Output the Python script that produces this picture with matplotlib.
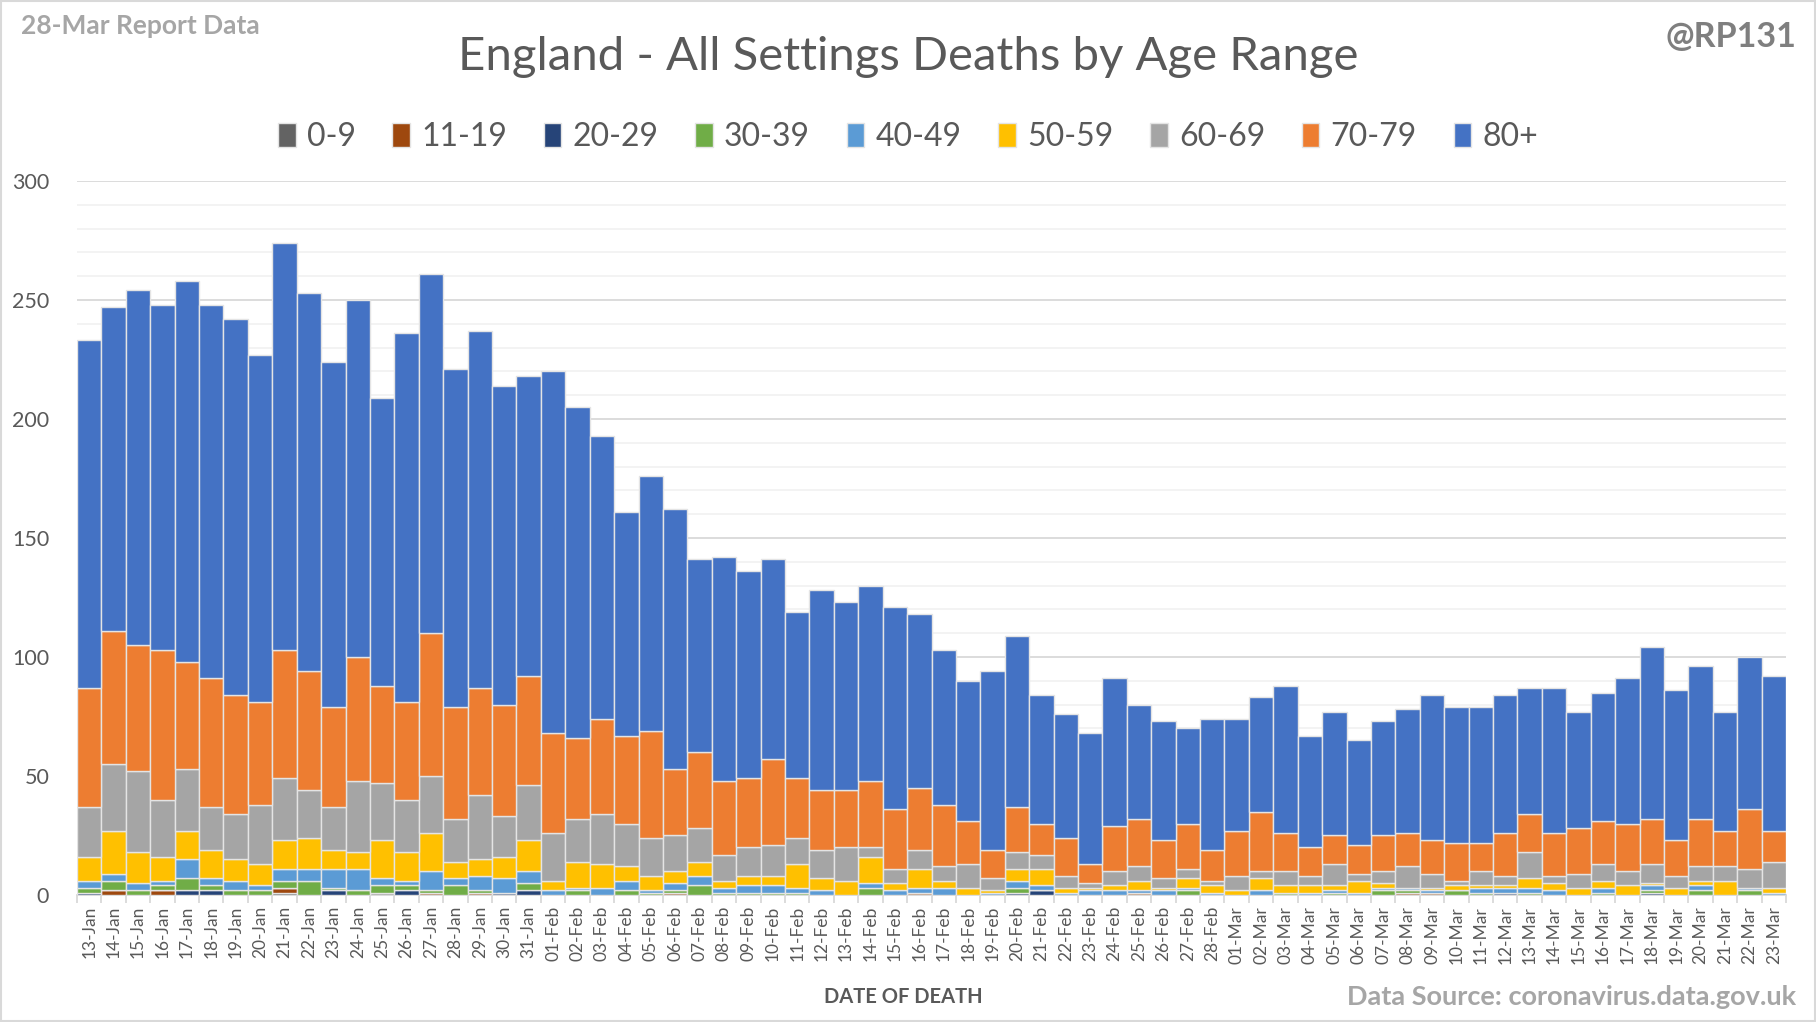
import matplotlib
matplotlib.use('Agg')
import matplotlib.pyplot as plt
from matplotlib.ticker import MultipleLocator
import numpy as np
import pandas as pd

# day labels 13-Jan .. 23-Mar
dates = pd.date_range('2021-01-13', '2021-03-23').strftime('%d-%b').tolist()

age_0_9 = [0,0,0,0,0,0,0,0,1,0, 0,0,1,0,0,0,0,0,0,0,
           0,0,0,0,0,0,0,0,0,0, 0,0,0,0,0,0,0,0,0,0,
           0,0,0,0,0,0,0,0,0,0, 0,0,0,0,0,0,0,0,0,0,
           0,0,0,0,0,0,0,0,0,0]
age_11_19 = [0,2,0,2,0,0,0,0,2,0, 0,0,0,0,1,0,1,0,0,0,
             0,0,0,0,1,0,0,0,0,0, 0,0,0,0,1,0,0,0,0,0,
             0,0,0,1,0,0,0,0,0,0, 0,0,0,0,1,1,0,0,0,0,
             0,0,0,0,0,0,0,0,0,0]
age_20_29 = [1,0,0,0,2,2,0,0,0,0, 2,0,0,2,0,0,0,1,2,0,
             0,0,0,0,0,0,0,0,0,0, 0,0,0,0,0,0,0,0,1,2,
             0,0,0,0,0,0,0,0,0,0, 0,0,0,0,0,0,0,0,1,0,
             0,0,0,0,1,0,0,0,0,0]
age_30_39 = [2,4,2,2,5,2,2,2,3,6, 1,2,3,2,1,4,1,0,3,0,
             2,0,2,1,1,4,1,1,1,1, 0,0,3,0,0,0,0,0,2,0,
             0,0,0,0,0,2,0,0,0,1, 0,1,0,2,1,0,2,1,0,1,
             0,0,1,0,1,0,2,0,2,0]
age_40_49 = [3,3,3,2,8,3,4,2,5,5, 8,9,3,2,8,3,6,6,5,2,
             1,3,4,1,3,4,2,3,3,2, 2,0,2,2,2,3,0,1,3,2,
             1,2,2,1,2,1,1,0,2,0, 1,1,1,1,1,1,0,2,2,2,
             2,0,2,0,2,0,2,0,1,1]
age_50_59 = [10,18,13,10,12,12,9,9,12,13, 8,7,16,12,16,7,7,9,13,4,
             11,10,6,6,5,6,3,4,4,10, 5,6,11,3,8,3,3,1,5,7,
             2,1,2,4,1,4,3,2,5,3, 3,2,5,2,0,1,2,1,1,4,
             3,3,3,4,1,3,2,6,0,2]
age_60_69 = [21,28,34,24,26,18,19,25,26,20, 18,30,24,22,24,18,27,17,23,20,
             18,21,18,16,15,14,11,12,13,11, 12,14,4,6,8,6,10,5,7,6,
             5,2,6,6,4,4,2,6,3,6, 4,9,3,5,9,6,2,6,4,11,
             3,6,7,6,8,5,6,6,8,11]
age_70_79 = [50,56,53,63,45,54,50,43,54,50, 42,52,41,41,60,47,45,47,46,42,
             34,40,37,45,28,32,31,29,36,25, 25,24,28,25,26,26,18,12,19,13,
             16,8,19,20,16,19,13,19,25,16, 12,12,12,15,14,14,16,12,18,16,
             18,19,18,20,19,15,20,15,25,13]
age_80_plus = [146,136,149,145,160,157,158,146,171,159, 145,150,121,155,151,142,150,134,126,152,
               139,119,94,107,109,81,94,87,84,70, 84,79,82,85,73,65,59,75,72,54,
               52,55,62,48,50,40,55,47,48,62, 47,52,44,48,52,61,57,57,58,53,
               61,49,54,61,72,63,64,50,64,65]

bands = ['0-9', '11-19', '20-29', '30-39', '40-49', '50-59', '60-69', '70-79', '80+']
series = [age_0_9, age_11_19, age_20_29, age_30_39, age_40_49,
          age_50_59, age_60_69, age_70_79, age_80_plus]
colors = ['#636363', '#9E480E', '#264478', '#70AD47', '#5B9BD5',
          '#FFC000', '#A5A5A5', '#ED7D31', '#4472C4']

plt.rcParams['font.family'] = ['Lato', 'DejaVu Sans']
txt = '#595959'

fig = plt.figure(figsize=(18.16, 10.22), dpi=100)
ax = fig.add_axes([0.0424, 0.1243, 0.9411, 0.6986])

x = np.arange(len(dates))
bottom = np.zeros(len(dates))
for name, vals, c in zip(bands, series, colors):
    ax.bar(x, vals, width=1.0, bottom=bottom, color=c, edgecolor='#e4e4e4',
           linewidth=1.0, label=name, zorder=3)
    bottom += np.array(vals)

ax.set_xlim(-0.5, len(dates) - 0.5)
ax.set_ylim(0, 300)
ax.yaxis.set_major_locator(MultipleLocator(50))
ax.yaxis.set_minor_locator(MultipleLocator(10))
ax.grid(axis='y', which='major', color='#d9d9d9', linewidth=1.3, zorder=0)
ax.grid(axis='y', which='minor', color='#f2f2f2', linewidth=1.3, zorder=0)
for s in ['top', 'right', 'left']:
    ax.spines[s].set_visible(False)
ax.spines['bottom'].set_color('#d9d9d9')
ax.spines['bottom'].set_linewidth(1.3)

ax.set_xticks(x)
ax.set_xticklabels(dates, rotation=90, fontsize=12.5, color=txt)
ax.set_xticks(np.arange(len(dates) + 1) - 0.5, minor=True)
ax.tick_params(axis='x', which='major', length=0, pad=8)
ax.tick_params(axis='x', which='minor', length=6, color='#d9d9d9', width=1.3)
ax.tick_params(axis='y', which='both', length=0, pad=20, labelsize=15.5, labelcolor=txt)

fig.legend(loc='center', bbox_to_anchor=(0.5, 1 - 137 / 1022), ncol=9, frameon=False,
           fontsize=23, handlelength=0.55, handleheight=0.8, handletextpad=0.35,
           columnspacing=1.15, labelcolor=txt)

fig.text(0.5, 1 - 57 / 1022, 'England - All Settings Deaths by Age Range',
         ha='center', va='center', fontsize=34, color=txt)
fig.text(21 / 1816, 1 - 26 / 1022, '28-Mar Report Data', ha='left', va='center',
         fontsize=19, fontweight='bold', color='#a6a6a6')
fig.text(1 - 20 / 1816, 1 - 37 / 1022, '@RP131', ha='right', va='center',
         fontsize=24.5, fontweight='bold', color='#7f7f7f')
fig.text(903 / 1816, 1 - 997 / 1022, 'DATE OF DEATH', ha='center', va='center',
         fontsize=14.5, fontweight='bold', color=txt)
fig.text(1 - 20 / 1816, 1 - 997 / 1022, 'Data Source: coronavirus.data.gov.uk',
         ha='right', va='center', fontsize=19.5, fontweight='bold', color='#a6a6a6')

fig.patches.append(plt.Rectangle((0.0008, 0.0012), 0.9984, 0.9976, transform=fig.transFigure,
                                 fill=False, edgecolor='#d9d9d9', linewidth=1.5))

fig.savefig('out.png', dpi=100)
